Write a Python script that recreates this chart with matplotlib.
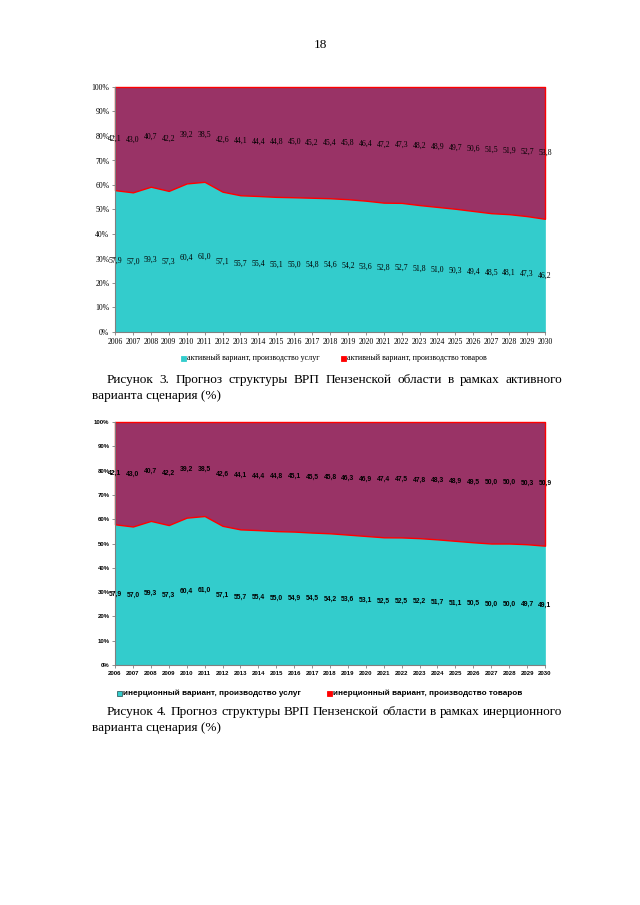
import matplotlib
matplotlib.use('Agg')
import matplotlib.pyplot as plt
from matplotlib.patches import Rectangle

years = list(range(2006, 2031))
year_labels = [str(y) for y in years]

active_services = [57.9, 57.0, 59.3, 57.3, 60.4, 61.0, 57.1, 55.7, 55.4, 55.1, 55.0, 54.8, 54.6,
                   54.2, 53.6, 52.8, 52.7, 51.8, 51.0, 50.3, 49.4, 48.5, 48.1, 47.3, 46.2]
active_goods = [42.1, 43.0, 40.7, 42.2, 39.2, 38.5, 42.6, 44.1, 44.4, 44.8, 45.0, 45.2, 45.4,
                45.8, 46.4, 47.2, 47.3, 48.2, 48.9, 49.7, 50.6, 51.5, 51.9, 52.7, 53.8]
inert_services = [57.9, 57.0, 59.3, 57.3, 60.4, 61.0, 57.1, 55.7, 55.4, 55.0, 54.9, 54.5, 54.2,
                  53.6, 53.1, 52.5, 52.5, 52.2, 51.7, 51.1, 50.5, 50.0, 50.0, 49.7, 49.1]
inert_goods = [42.1, 43.0, 40.7, 42.2, 39.2, 38.5, 42.6, 44.1, 44.4, 44.8, 45.1, 45.5, 45.8,
               46.3, 46.9, 47.4, 47.5, 47.8, 48.3, 48.9, 49.5, 50.0, 50.0, 50.3, 50.9]

legend1 = ["активный вариант, производство услуг", "активный вариант, производство товаров"]
legend2 = ["инерционный вариант, производство услуг", "инерционный вариант, производство товаров"]
caption1 = ["Рисунок 3. Прогноз структуры ВРП Пензенской области в рамках активного",
            "варианта сценария (%)"]
caption2 = ["Рисунок 4. Прогноз структуры ВРП Пензенской области в рамках инерционного",
            "варианта сценария (%)"]
page_number = "18"

TEAL = "#33CCCC"
MAROON = "#993366"
RED = "#FF0000"
GRAY = "#808080"

W, H = 640, 905
fig = plt.figure(figsize=(W / 100, H / 100), dpi=100)

SERIF = ["Liberation Serif", "DejaVu Serif"]
SANS = ["Liberation Sans", "DejaVu Sans"]


def px_ax(left, top, right, bottom):
    return fig.add_axes([left / W, 1 - bottom / H, (right - left) / W, (bottom - top) / H])


def fmt(v):
    return f"{v:.1f}".replace(".", ",")


def draw_chart(ax, serv, goods, family, weight, fs_x, fs_y, fs_lab):
    x = list(range(len(years)))
    s = [a / (a + b) * 100 for a, b in zip(serv, goods)]
    ax.fill_between(x, 0, s, facecolor=TEAL, edgecolor=TEAL, lw=0.5)
    poly = ax.fill_between(x, s, 100, facecolor=MAROON, edgecolor=RED, lw=1.0)
    poly.set_clip_on(False)
    ax.set_xlim(0, len(years) - 1)
    ax.set_ylim(0, 100)
    ax.set_xticks(x)
    ax.set_xticklabels(year_labels, family=family, weight=weight, fontsize=fs_x)
    ax.set_yticks(range(0, 101, 10))
    ax.set_yticklabels([f"{v}%" for v in range(0, 101, 10)], family=family, weight=weight,
                       fontsize=fs_y)
    for sp in ["top", "right"]:
        ax.spines[sp].set_visible(False)
    for sp in ["left", "bottom"]:
        ax.spines[sp].set_color(GRAY)
        ax.spines[sp].set_linewidth(0.8)
    ax.tick_params(direction="out", length=2.5, width=0.6, color=GRAY, pad=1.5)
    for i in x:
        ax.text(i, s[i] / 2, fmt(serv[i]), ha="center", va="center", family=family,
                weight=weight, fontsize=fs_lab, color="black")
        ax.text(i, s[i] + (100 - s[i]) / 2, fmt(goods[i]), ha="center", va="center",
                family=family, weight=weight, fontsize=fs_lab, color="black")


ax1 = px_ax(115, 87, 545, 332)
draw_chart(ax1, active_services, active_goods, SERIF, "normal", 5.6, 5.6, 5.6)
ax2 = px_ax(115, 422, 545, 665)
draw_chart(ax2, inert_services, inert_goods, SANS, "bold", 4.3, 4.3, 4.9)


def legend_item(xsq, y, color, label, family, weight, fs, size=4.5, edge=None):
    fig.patches.append(Rectangle(((xsq) / W, 1 - (y + size / 2) / H), size / W, size / H,
                                 transform=fig.transFigure, facecolor=color,
                                 edgecolor=edge if edge else color, lw=0.6, figure=fig))
    fig.text((xsq + size + 1.5) / W, 1 - y / H, label, ha="left", va="center",
             family=family, weight=weight, fontsize=fs)


legend_item(181, 358.5, TEAL, legend1[0], SERIF, "normal", 5.75)
legend_item(341, 358.5, RED, legend1[1], SERIF, "normal", 5.75)
legend_item(117, 693.5, TEAL, legend2[0], SANS, "bold", 5.9, edge="#336666")
legend_item(327, 693.5, RED, legend2[1], SANS, "bold", 5.9)

fig.text(320 / W, 1 - 45 / H, page_number, ha="center", va="center", family=SERIF, fontsize=9.5)

renderer = fig.canvas.get_renderer()


def justified(line, x0, x1, y, fs):
    words = line.split()
    texts = [fig.text(0, 0, w, ha="left", va="baseline", family=SERIF, fontsize=fs) for w in words]
    widths = [t.get_window_extent(renderer).width for t in texts]
    gap = (x1 - x0 - sum(widths)) / (len(words) - 1)
    xx = x0
    for t, w in zip(texts, widths):
        t.set_position((xx / W, 1 - y / H))
        xx += w + gap


CAP_FS = 9.5
justified(caption1[0], 107, 562, 383, CAP_FS)
fig.text(92 / W, 1 - 399 / H, caption1[1], ha="left", va="baseline", family=SERIF, fontsize=CAP_FS)
justified(caption2[0], 107, 562, 715, CAP_FS)
fig.text(92 / W, 1 - 731 / H, caption2[1], ha="left", va="baseline", family=SERIF, fontsize=CAP_FS)

fig.savefig("out.png", dpi=100, facecolor="white")
